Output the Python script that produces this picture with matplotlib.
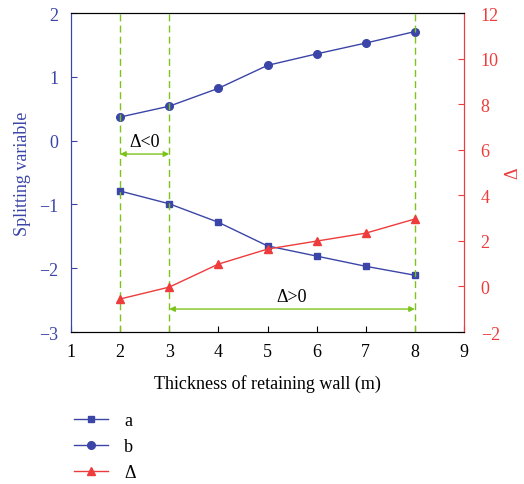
import matplotlib.pyplot as plt

plt.rcParams['font.family'] = ['Liberation Serif', 'DejaVu Serif']

thickness = [2, 3, 4, 5, 6, 7, 8]
a_vals = [-0.79, -0.99, -1.28, -1.65, -1.81, -1.97, -2.11]
b_vals = [0.37, 0.54, 0.82, 1.18, 1.36, 1.53, 1.71]
delta_vals = [-0.55, -0.03, 0.98, 1.64, 1.99, 2.34, 2.96]
split_x = [2, 3, 8]

blue = '#3b45a8'
red = '#ee3b3b'
green = '#7cc41d'

fig = plt.figure(figsize=(5.24, 4.85), dpi=100)
ax = fig.add_axes([0.1355, 0.3134, 0.75, 0.6576])
ax2 = ax.twinx()

la, = ax.plot(thickness, a_vals, color=blue, marker='s', ms=5, lw=1, label='a')
lb, = ax.plot(thickness, b_vals, color=blue, marker='o', ms=5.5, lw=1, label='b')
ld, = ax2.plot(thickness, delta_vals, color=red, marker='^', ms=6, lw=1, label='\u0394')

for x in split_x:
    ax.axvline(x, color=green, ls=(0, (5, 3)), lw=1)

ax.annotate('', xy=(2, -0.21), xytext=(3, -0.21),
            arrowprops=dict(arrowstyle='<|-|>', color=green, lw=1, mutation_scale=8, shrinkA=0, shrinkB=0))
ax.text(2.5, -0.02, '\u0394<0', ha='center', va='center', fontsize=13)
ax.annotate('', xy=(3, -2.64), xytext=(8, -2.64),
            arrowprops=dict(arrowstyle='<|-|>', color=green, lw=1, mutation_scale=8, shrinkA=0, shrinkB=0))
ax.text(5.5, -2.44, '\u0394>0', ha='center', va='center', fontsize=13)

ax.set_xlim(1, 9)
ax.set_ylim(-3, 2)
ax2.set_ylim(-2, 12)
ax.set_xticks(range(1, 10))
ax.set_yticks(range(-3, 3))
ax2.set_yticks(range(-2, 13, 2))
ax.set_yticklabels([str(v).replace('-', '\u2212') for v in range(-3, 3)])
ax2.set_yticklabels([str(v).replace('-', '\u2212') for v in range(-2, 13, 2)])

ax.set_xlabel('Thickness of retaining wall (m)', fontsize=13, labelpad=10)
ax.set_ylabel('Splitting variable', fontsize=13, color=blue, labelpad=6)
ax2.set_ylabel('\u0394', fontsize=13, color=red, labelpad=3)

ax.tick_params(axis='x', direction='in', labelsize=13, length=4, pad=8)
ax.tick_params(axis='y', direction='in', labelsize=13, length=4, colors=blue, pad=9)
ax2.tick_params(axis='y', direction='in', labelsize=13, length=4, colors=red, pad=12)

ax2.spines['left'].set_color(blue)
ax2.spines['right'].set_color(red)
ax.spines['left'].set_color(blue)
ax.spines['right'].set_color(red)

fig.legend(handles=[la, lb, ld], loc='upper left', bbox_to_anchor=(0.11, 0.182),
           bbox_transform=fig.transFigure, frameon=False, fontsize=13,
           handlelength=1.9, handletextpad=0.9, labelspacing=0.5)

fig.savefig('out.png', dpi=100)
